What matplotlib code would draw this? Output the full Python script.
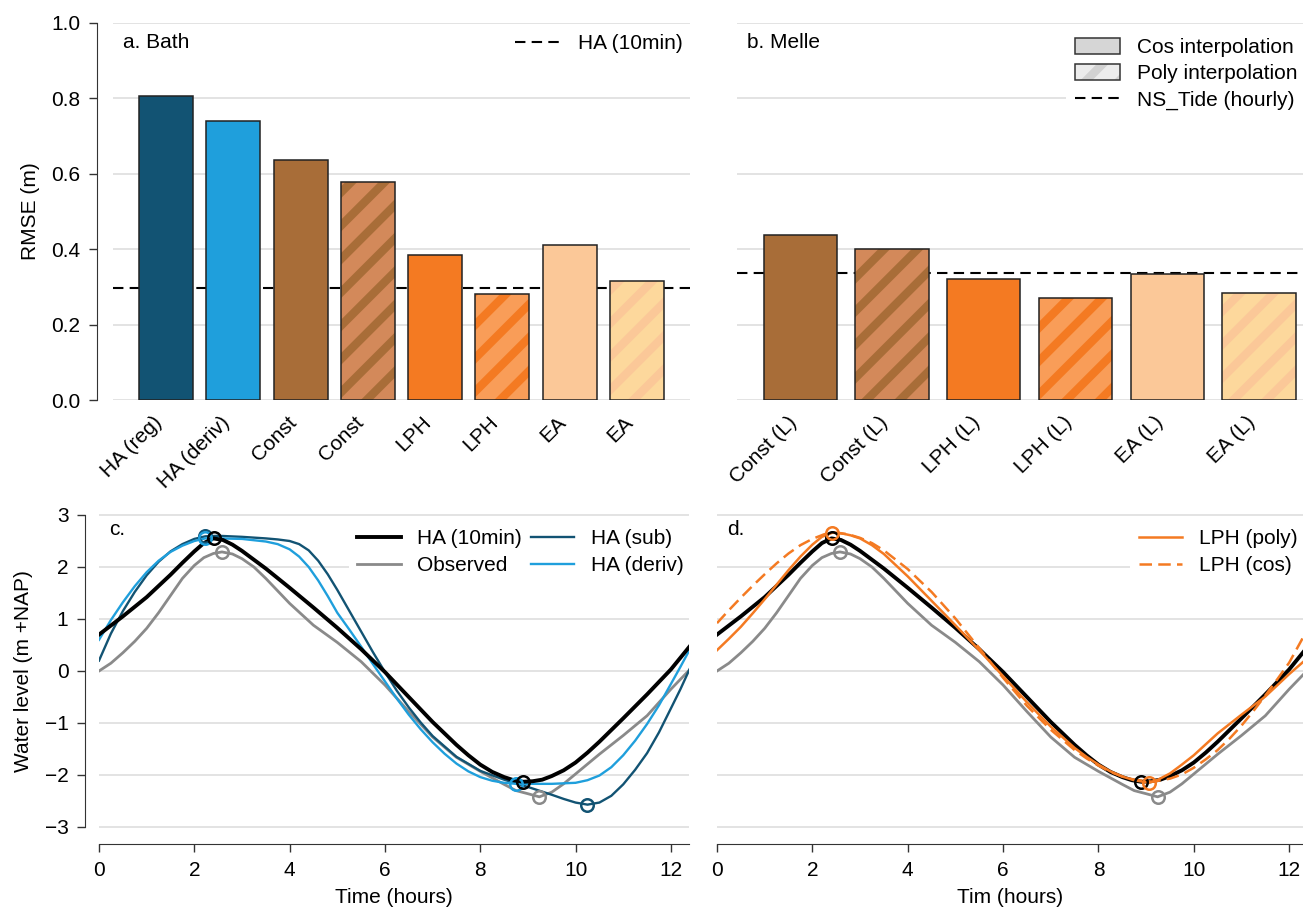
import numpy as np
import matplotlib
matplotlib.use("Agg")
import matplotlib.pyplot as plt
from matplotlib.patches import Patch
from matplotlib.lines import Line2D

plt.rcParams['font.family'] = ['Liberation Sans', 'DejaVu Sans']
plt.rcParams['font.size'] = 15
plt.rcParams['hatch.linewidth'] = 6.0

# RMSE per method (Bath / Melle)
bath_labels = ['HA (reg)', 'HA (deriv)', 'Const', 'Const', 'LPH', 'LPH', 'EA', 'EA']
bath_rmse = [0.805, 0.741, 0.636, 0.578, 0.385, 0.283, 0.412, 0.317]
bath_poly = [False, False, False, True, False, True, False, True]
bath_ref = 0.298

melle_labels = ['Const (L)', 'Const (L)', 'LPH (L)', 'LPH (L)', 'EA (L)', 'EA (L)']
melle_rmse = [0.438, 0.401, 0.322, 0.272, 0.335, 0.285]
melle_poly = [False, True, False, True, False, True]
melle_ref = 0.338

# water levels (hours, m +NAP)
t_ha10 = [0, 0.5, 1.0, 1.5, 1.75, 2.0, 2.2, 2.4, 2.6, 2.8, 3.0, 3.5, 4.0, 4.5, 5.0, 5.5,
          6.0, 6.5, 7.0, 7.5, 7.75, 8.0, 8.25, 8.5, 8.7, 8.9, 9.1, 9.3, 9.5, 9.75, 10.0,
          10.25, 10.5, 11.0, 11.5, 12.0, 12.4]
h_ha10 = [0.70, 1.05, 1.42, 1.85, 2.08, 2.30, 2.46, 2.55, 2.52, 2.43, 2.31, 1.97, 1.60,
          1.22, 0.83, 0.42, -0.02, -0.50, -0.98, -1.42, -1.62, -1.80, -1.94, -2.04, -2.10,
          -2.13, -2.12, -2.09, -2.02, -1.91, -1.76, -1.57, -1.36, -0.91, -0.45, 0.03, 0.48]

t_obs = [0, 0.25, 0.5, 0.75, 1.0, 1.25, 1.5, 1.75, 2.0, 2.2, 2.4, 2.58, 2.8, 3.0, 3.25,
         3.5, 4.0, 4.5, 5.0, 5.5, 6.0, 6.5, 7.0, 7.5, 8.0, 8.5, 8.75, 9.0, 9.24, 9.5, 9.75,
         10.0, 10.5, 11.0, 11.5, 12.0, 12.4]
h_obs = [0.0, 0.15, 0.35, 0.57, 0.82, 1.12, 1.45, 1.78, 2.03, 2.18, 2.26, 2.29, 2.25, 2.16,
         2.00, 1.78, 1.30, 0.88, 0.55, 0.18, -0.27, -0.78, -1.27, -1.66, -1.93, -2.18,
         -2.30, -2.36, -2.42, -2.33, -2.17, -1.98, -1.60, -1.24, -0.86, -0.35, 0.03]

t_sub = [0, 0.25, 0.5, 0.75, 1.0, 1.25, 1.5, 1.75, 2.0, 2.23, 2.5, 3.0, 3.5, 3.75, 4.0,
         4.2, 4.4, 4.6, 4.8, 5.0, 5.25, 5.5, 5.75, 6.0, 6.25, 6.5, 6.75, 7.0, 7.5, 8.0,
         8.5, 9.0, 9.5, 9.75, 10.0, 10.25, 10.5, 10.75, 11.0, 11.25, 11.5, 11.75, 12.0,
         12.2, 12.4]
h_sub = [0.20, 0.72, 1.15, 1.52, 1.84, 2.10, 2.30, 2.44, 2.54, 2.59, 2.60, 2.58, 2.55,
         2.53, 2.50, 2.44, 2.32, 2.12, 1.86, 1.56, 1.16, 0.76, 0.36, -0.02, -0.38, -0.70,
         -0.99, -1.25, -1.65, -1.92, -2.09, -2.23, -2.38, -2.46, -2.53, -2.57, -2.53,
         -2.40, -2.18, -1.90, -1.58, -1.18, -0.72, -0.35, 0.05]

t_deriv = [0, 0.25, 0.5, 0.75, 1.0, 1.25, 1.5, 1.75, 2.0, 2.23, 2.5, 3.0, 3.5, 3.75, 4.0,
           4.2, 4.4, 4.6, 4.8, 5.0, 5.25, 5.5, 5.75, 6.0, 6.25, 6.5, 6.75, 7.0, 7.25, 7.5,
           7.75, 8.0, 8.25, 8.5, 8.75, 9.0, 9.5, 10.0, 10.25, 10.5, 10.75, 11.0, 11.25,
           11.5, 11.75, 12.0, 12.2, 12.4]
h_deriv = [0.60, 0.98, 1.32, 1.63, 1.90, 2.12, 2.29, 2.41, 2.50, 2.55, 2.55, 2.54, 2.49,
           2.44, 2.34, 2.20, 2.00, 1.74, 1.44, 1.12, 0.80, 0.47, 0.13, -0.20, -0.53, -0.84,
           -1.12, -1.37, -1.59, -1.78, -1.93, -2.04, -2.11, -2.15, -2.17, -2.17, -2.17,
           -2.15, -2.10, -2.01, -1.85, -1.62, -1.34, -1.02, -0.66, -0.25, 0.08, 0.42]

t_lph_poly = [0, 0.25, 0.5, 0.75, 1.0, 1.25, 1.5, 1.75, 2.0, 2.2, 2.42, 2.6, 2.8, 3.0,
              3.25, 3.5, 4.0, 4.5, 5.0, 5.5, 6.0, 6.5, 7.0, 7.5, 7.75, 8.0, 8.25, 8.5,
              8.75, 9.06, 9.25, 9.5, 9.75, 10.0, 10.5, 11.0, 11.5, 12.0, 12.3]
h_lph_poly = [0.40, 0.62, 0.85, 1.11, 1.38, 1.66, 1.94, 2.20, 2.43, 2.58, 2.66, 2.65,
              2.61, 2.55, 2.42, 2.25, 1.82, 1.35, 0.88, 0.40, -0.10, -0.60, -1.07, -1.48,
              -1.65, -1.80, -1.93, -2.03, -2.10, -2.15, -2.09, -1.97, -1.80, -1.62, -1.20,
              -0.84, -0.49, -0.06, 0.18]

t_lph_cos = [0, 0.25, 0.5, 0.75, 1.0, 1.25, 1.5, 1.75, 2.0, 2.25, 2.46, 2.75, 3.0, 3.25,
             3.5, 4.0, 4.5, 5.0, 5.5, 6.0, 6.5, 7.0, 7.5, 7.75, 8.0, 8.25, 8.5, 8.75,
             9.14, 9.5, 9.75, 10.0, 10.25, 10.5, 10.75, 11.0, 11.25, 11.5, 11.75, 12.0, 12.3]
h_lph_cos = [0.92, 1.17, 1.41, 1.64, 1.86, 2.07, 2.26, 2.42, 2.54, 2.63, 2.66, 2.63, 2.56,
             2.46, 2.32, 1.96, 1.52, 1.01, 0.44, -0.13, -0.67, -1.13, -1.52, -1.68, -1.82,
             -1.94, -2.03, -2.09, -2.13, -2.07, -1.99, -1.86, -1.70, -1.52, -1.30, -1.05,
             -0.77, -0.47, -0.16, 0.16, 0.66]

# high / low water extremes (time, level)
ext_ha10 = ([2.42, 8.9], [2.55, -2.13])
ext_obs = ([2.58, 9.24], [2.29, -2.42])
ext_sub = ([2.23, 10.25], [2.59, -2.57])
ext_deriv = ([2.23, 8.75], [2.55, -2.17])
ext_lph_poly = ([2.42, 9.06], [2.66, -2.15])

C_SUB = '#125373'
C_DERIV = '#1f9fdc'
C_OBS = '#8a8a8a'
C_LPH = '#f47a22'
method_col = {'HA (reg)': (C_SUB, None), 'HA (deriv)': (C_DERIV, None),
              'Const': ('#a86d38', '#d3895a'), 'LPH': ('#f47a22', '#f99d58'),
              'EA': ('#fbc898', '#fdd89c')}

W, H = 1303, 909
fig = plt.figure(figsize=(W / 100, H / 100), dpi=100)


def px_axes(x0, x1, y0, y1):
    return fig.add_axes([x0 / W, 1 - y1 / H, (x1 - x0) / W, (y1 - y0) / H])


ax_a = px_axes(113, 690, 22.7, 400.5)
ax_b = px_axes(737, 1303, 22.7, 400.5)
ax_c = px_axes(99, 689, 509.8, 832.2)
ax_d = px_axes(717, 1303, 509.8, 832.2)

GRID = dict(color='#dedede', lw=1.2)


def anchor(ax, dx, dy):
    # legend corner shifted by (dx, dy) pixels from the axes' top-right corner
    bb = ax.get_position()
    return (1 + dx / (bb.width * W), 1 - dy / (bb.height * H))


def bar_panel(ax, labels, vals, poly, ref, xlim):
    x = np.arange(len(vals))
    for i, (lab, v, p) in enumerate(zip(labels, vals, poly)):
        key = lab.replace(' (L)', '')
        dark, light = method_col[key]
        if p:
            ax.bar(x[i], v, 0.8, color=light, edgecolor=dark, hatch='/', lw=0, zorder=2)
        else:
            ax.bar(x[i], v, 0.8, color=dark, lw=0, zorder=2)
        ax.bar(x[i], v, 0.8, fill=False, edgecolor='#222222', lw=1.1, zorder=3)
    ax.axhline(ref, color='black', lw=1.5, ls=(0, (5, 3)), zorder=1)
    ax.set_xlim(*xlim)
    ax.set_ylim(0, 1.0)
    ax.set_yticks(np.arange(0, 1.01, 0.2))
    ax.yaxis.grid(True, **GRID)
    ax.set_axisbelow(True)
    ax.set_xticks(x)
    ax.set_xticklabels(labels, rotation=45, ha='right')
    ax.tick_params(axis='x', length=0, pad=9)
    for s in ['top', 'right', 'bottom']:
        ax.spines[s].set_visible(False)


bar_panel(ax_a, bath_labels, bath_rmse, bath_poly, bath_ref, (-0.79, 7.79))
bar_panel(ax_b, melle_labels, melle_rmse, melle_poly, melle_ref, (-0.69, 5.48))

ax_a.set_yticklabels(['0.0', '0.2', '0.4', '0.6', '0.8', '1.0'])
ax_a.spines['left'].set_position(('outward', 11.5))
ax_a.spines['left'].set_color('#333333')
ax_a.tick_params(axis='y', length=6, width=1, color='#333333', pad=6)
ax_a.set_ylabel('RMSE (m)', labelpad=8)
ax_b.spines['left'].set_visible(False)
ax_b.tick_params(axis='y', length=0, labelleft=False)

ax_a.legend(handles=[Line2D([], [], color='black', lw=1.5, ls=(0, (5, 3)))],
            labels=['HA (10min)'], loc='upper right', frameon=False,
            borderaxespad=0, bbox_to_anchor=anchor(ax_a, 1, 3), handlelength=2.2)

cos_patch = Patch(facecolor='#d6d6d6', edgecolor='#333333', lw=1.1)
poly_fill = Patch(facecolor='#ececec', edgecolor='#d2d2d2', hatch='/', lw=0)
poly_edge = Patch(facecolor='none', edgecolor='#333333', lw=1.1)
ax_b.legend(handles=[cos_patch, (poly_fill, poly_edge),
                     Line2D([], [], color='black', lw=1.5, ls=(0, (5, 3)))],
            labels=['Cos interpolation', 'Poly interpolation', 'NS_Tide (hourly)'],
            loc='upper right', frameon=True, facecolor='white', edgecolor='none',
            framealpha=1, borderaxespad=0, bbox_to_anchor=anchor(ax_b, 3, 7),
            handlelength=2.2, handleheight=0.8, labelspacing=0.33)


def line_panel(ax, xlim):
    ax.set_xlim(*xlim)
    ax.set_ylim(-3.1, 3.1)
    ax.set_yticks(np.arange(-3, 4))
    ax.set_xticks(np.arange(0, 13, 2))
    ax.yaxis.grid(True, **GRID)
    ax.set_axisbelow(True)
    for s in ['top', 'right']:
        ax.spines[s].set_visible(False)
    ax.spines['bottom'].set_position(('outward', 8.6))
    ax.spines['bottom'].set_bounds(0, xlim[1])
    ax.spines['bottom'].set_color('#333333')
    ax.tick_params(axis='x', length=6, width=1, color='#333333', pad=6)


def draw(ax, t, h, ext, color, lw, ls='-', label=None):
    ax.plot(t, h, color=color, lw=lw, ls=ls, label=label, zorder=3,
            solid_joinstyle='round')
    if ext is not None:
        ax.plot(ext[0], ext[1], 'o', ms=9, mfc='none', mec=color, mew=1.8, zorder=4)


line_panel(ax_c, (0, 12.38))
line_panel(ax_d, (0, 12.29))

ax_c.spines['left'].set_position(('outward', 10))
ax_c.spines['left'].set_bounds(-3, 3)
ax_c.spines['left'].set_color('#333333')
ax_c.tick_params(axis='y', length=6, width=1, color='#333333', pad=6)
ax_c.set_yticklabels(['\u22123', '\u22122', '\u22121', '0', '1', '2', '3'])
ax_c.set_ylabel('Water level (m +NAP)', labelpad=8)
ax_d.spines['left'].set_visible(False)
ax_d.tick_params(axis='y', length=0, labelleft=False)

draw(ax_c, t_obs, h_obs, ext_obs, C_OBS, 2.0, label='Observed')
draw(ax_c, t_sub, h_sub, ext_sub, C_SUB, 1.7, label='HA (sub)')
draw(ax_c, t_deriv, h_deriv, ext_deriv, C_DERIV, 1.7, label='HA (deriv)')
draw(ax_c, t_ha10, h_ha10, ext_ha10, 'black', 2.8, label='HA (10min)')

draw(ax_d, t_obs, h_obs, ext_obs, C_OBS, 2.0)
draw(ax_d, t_ha10, h_ha10, ext_ha10, 'black', 2.8)
draw(ax_d, t_lph_cos, h_lph_cos, None, C_LPH, 1.8, ls=(0, (5, 2.5)), label='LPH (cos)')
draw(ax_d, t_lph_poly, h_lph_poly, ext_lph_poly, C_LPH, 1.8, label='LPH (poly)')

hc, lc = ax_c.get_legend_handles_labels()
order = [lc.index(k) for k in ['HA (10min)', 'Observed', 'HA (sub)', 'HA (deriv)']]
ax_c.legend([hc[i] for i in order], [lc[i] for i in order], ncol=2, loc='upper right',
            frameon=True, facecolor='white', edgecolor='none', framealpha=1,
            borderaxespad=0, bbox_to_anchor=anchor(ax_c, 3, 11),
            handlelength=2.1, columnspacing=0.4, labelspacing=0.4)

hd, ld = ax_d.get_legend_handles_labels()
order = [ld.index(k) for k in ['LPH (poly)', 'LPH (cos)']]
ax_d.legend([hd[i] for i in order], [ld[i] for i in order], loc='upper right',
            frameon=True, facecolor='white', edgecolor='none', framealpha=1,
            borderaxespad=0, bbox_to_anchor=anchor(ax_d, 3, 11),
            handlelength=2.1, labelspacing=0.4)

ax_c.set_xlabel('Time (hours)', labelpad=6)
ax_d.set_xlabel('Tim (hours)', labelpad=6)

for ax, tag in [(ax_a, 'a. Bath'), (ax_b, 'b. Melle'), (ax_c, 'c.'), (ax_d, 'd.')]:
    ax.annotate(tag, xy=(0, 1), xycoords='axes fraction', xytext=(10, -10),
                textcoords='offset pixels', ha='left', va='top')

fig.savefig('out.png', dpi=100)
